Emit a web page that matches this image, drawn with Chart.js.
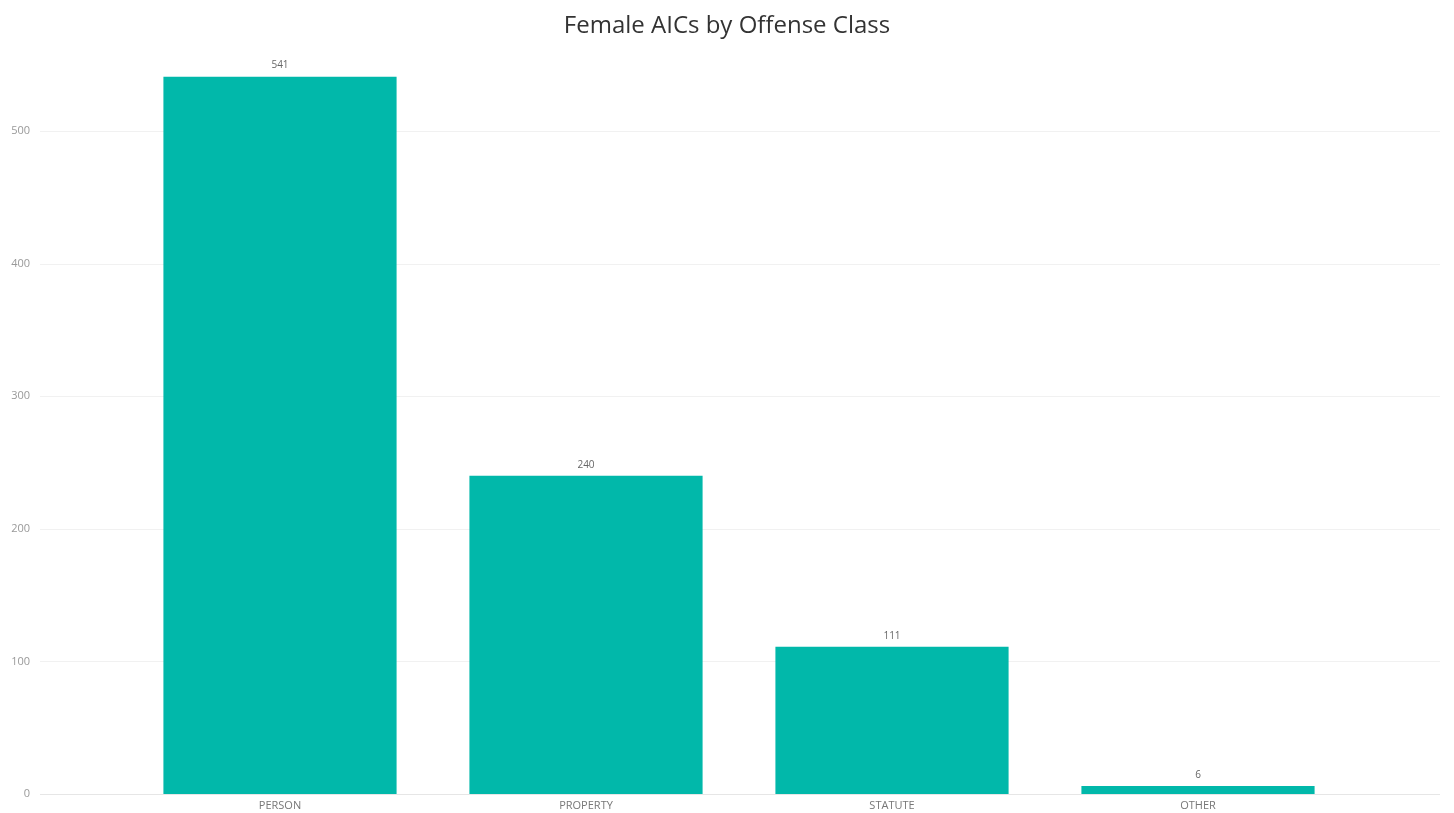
<!DOCTYPE html>
<html>
<head>
<meta charset="utf-8">
<title>Female AICs by Offense Class</title>
<script src="https://cdn.jsdelivr.net/npm/chart.js@4/dist/chart.umd.min.js"></script>
<style>
  html, body { margin: 0; padding: 0; background: #ffffff; overflow: hidden; }
  canvas { display: block; }
</style>
</head>
<body>
<canvas id="chart" width="1454" height="813" style="width:1454px;height:813px"></canvas>
<script>
// Offense classes and counts of female AICs
const categories = ['PERSON', 'PROPERTY', 'STATUTE', 'OTHER'];
const counts = [541, 240, 111, 6];
const yTicks = [0, 100, 200, 300, 400, 500];

const FONT = '"Open Sans", "Noto Sans", sans-serif';
const TEAL = '#01B8AA';

// Horizontal gridlines that run across the full width, behind the bars
const wideGrid = {
  id: 'wideGrid',
  beforeDatasetsDraw(chart) {
    const { ctx } = chart;
    const y = chart.scales.y;
    ctx.save();
    ctx.lineWidth = 1;
    yTicks.forEach(v => {
      const py = Math.round(y.getPixelForValue(v)) + 0.5;
      ctx.strokeStyle = v === 0 ? '#e6e6e6' : '#f1f1f1';
      ctx.beginPath();
      ctx.moveTo(40, py);
      ctx.lineTo(1440, py);
      ctx.stroke();
    });
    ctx.restore();
  }
};

// Value labels above each bar
const valueLabels = {
  id: 'valueLabels',
  afterDatasetsDraw(chart) {
    const { ctx } = chart;
    const meta = chart.getDatasetMeta(0);
    ctx.save();
    ctx.font = '10px ' + FONT;
    ctx.fillStyle = '#666666';
    ctx.textAlign = 'center';
    ctx.textBaseline = 'bottom';
    meta.data.forEach((bar, i) => {
      ctx.fillText(String(counts[i]), bar.x, bar.y - 6);
    });
    ctx.restore();
  }
};

new Chart(document.getElementById('chart'), {
  type: 'bar',
  data: {
    labels: categories,
    datasets: [{
      data: counts,
      backgroundColor: TEAL,
      borderWidth: 0,
      categoryPercentage: 1.0,
      barPercentage: 0.762
    }]
  },
  options: {
    responsive: false,
    animation: false,
    layout: { padding: 0 },
    plugins: {
      legend: { display: false },
      tooltip: { enabled: false },
      title: {
        display: true,
        text: 'Female AICs by Offense Class',
        color: '#333333',
        font: { family: FONT, size: 24, weight: 'normal' },
        padding: { top: 12, bottom: 8 }
      }
    },
    scales: {
      x: {
        grid: { display: false, drawTicks: false },
        border: { display: false },
        ticks: {
          color: '#777777',
          font: { family: FONT, size: 11 },
          padding: 5,
          maxRotation: 0
        },
        afterFit(scale) {
          scale.height = 19;
          scale.paddingLeft = 0;
          scale.paddingRight = 0;
        }
      },
      y: {
        min: 0,
        max: 562,
        grid: { display: false, drawTicks: false },
        border: { display: false },
        afterBuildTicks(scale) { scale.ticks = yTicks.map(v => ({ value: v })); },
        ticks: {
          color: '#999999',
          font: { family: FONT, size: 11 },
          padding: 97
        },
        afterFit(scale) {
          scale.width = 127;
          scale.paddingTop = 0;
          scale.paddingBottom = 0;
        }
      },
      // blank right-hand margin so the plot sits where the categories belong
      yRight: {
        position: 'right',
        grid: { display: false, drawTicks: false },
        border: { display: false },
        ticks: { display: false },
        afterFit(scale) {
          scale.width = 103;
          scale.paddingTop = 0;
          scale.paddingBottom = 0;
        }
      }
    }
  },
  plugins: [wideGrid, valueLabels]
});
</script>
</body>
</html>
